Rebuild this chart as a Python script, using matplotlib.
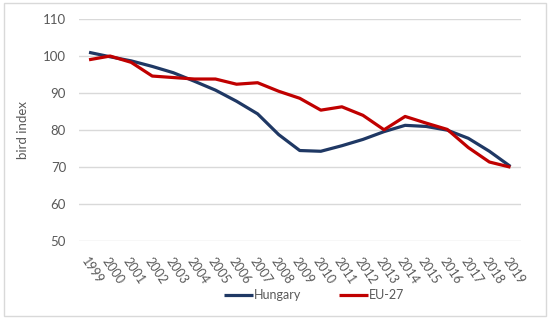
import matplotlib
matplotlib.use("Agg")
import matplotlib.pyplot as plt
from matplotlib.patches import Rectangle

years = [str(y) for y in range(1999, 2020)]
hungary = [101.0, 99.8, 98.7, 97.2, 95.5, 93.2, 90.8, 87.8, 84.4, 78.8, 74.5,
           74.3, 75.8, 77.5, 79.6, 81.3, 81.0, 80.0, 77.8, 74.3, 70.2]
eu27 = [99.0, 100.0, 98.3, 94.6, 94.2, 93.8, 93.8, 92.4, 92.8, 90.5, 88.6,
        85.4, 86.3, 84.0, 80.1, 83.7, 81.9, 80.2, 75.3, 71.4, 70.0]
yticks = [50, 60, 70, 80, 90, 100, 110]

plt.rcParams['font.family'] = ['Lato', 'DejaVu Sans']
fig = plt.figure(figsize=(5.5, 3.21), dpi=100)
W, H = 550, 321
ax = fig.add_axes([78.5 / W, 1 - 241.3 / H, (521 - 78.5) / W, (241.3 - 19) / H])

x = list(range(len(years)))
ax.plot(x, hungary, color='#1F3864', lw=2.3, label='Hungary', solid_capstyle='butt')
ax.plot(x, eu27, color='#C00000', lw=2.3, label='EU-27', solid_capstyle='butt')

ax.set_xlim(-0.5, len(years) - 0.5)
ax.set_ylim(50, 110)
ax.set_yticks(yticks)
ax.set_yticklabels([str(v) for v in yticks], fontsize=9.5, color='#595959')
ax.set_xticks(x)
ax.set_xticklabels(years, rotation=-56, ha='left', va='top', rotation_mode='anchor',
                   fontsize=9, color='#595959')
ax.tick_params(axis='y', length=0, pad=9)
ax.tick_params(axis='x', length=0, pad=10)
ax.grid(axis='y', color='#D9D9D9', lw=1)
ax.set_axisbelow(True)
for s in ax.spines.values():
    s.set_visible(False)
ax.set_ylabel('bird index', fontsize=9.5, color='#595959', labelpad=10)

leg = fig.legend(loc='center', bbox_to_anchor=(314 / W, 1 - 295 / H), ncol=2, frameon=False,
                 fontsize=9, handlelength=2.3, columnspacing=3.0, handletextpad=0.1)
for t in leg.get_texts():
    t.set_color('#595959')

fig.patches.append(Rectangle((4 / W, 1 - 316 / H), 542 / W, 313 / H, transform=fig.transFigure,
                             fill=False, edgecolor='#D9D9D9', lw=1))
fig.savefig('out.png', dpi=100)
